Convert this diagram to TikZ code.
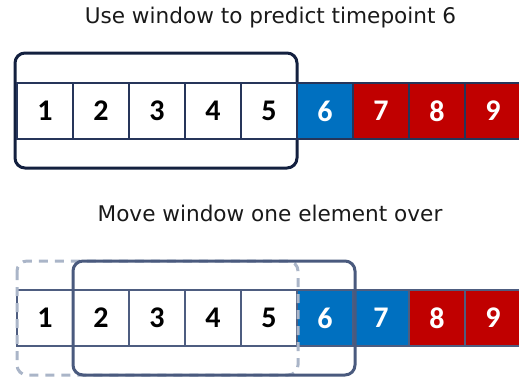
\documentclass[tikz,border=0pt]{standalone}
\usepackage{fontspec}
\setmainfont{DejaVu Sans}
\newfontfamily\numfont{Carlito}
\definecolor{navy}{HTML}{13203F}
\definecolor{navyline}{HTML}{26355A}
\definecolor{slate}{HTML}{4A5A7E}
\definecolor{slateline}{HTML}{4E5D80}
\definecolor{ghost}{HTML}{AAB5C8}
\definecolor{tblue}{HTML}{0070C0}
\definecolor{tred}{HTML}{C00000}
\tikzset{
  cell/.style={draw, line width=2pt, minimum width=56pt, minimum height=56pt,
    inner sep=0pt, outer sep=0pt, font=\numfont\bfseries\fontsize{30}{30}\selectfont},
  past/.style={cell, fill=white, text=black},
  now/.style={cell, fill=tblue, text=white},
  future/.style={cell, fill=tred, text=white},
  title/.style={font=\fontsize{21.6}{24}\selectfont, text=black!90},
  window/.style={line width=3pt, rounded corners=10pt},
}
\begin{document}
\begin{tikzpicture}[x=1pt, y=-1pt]
\useasboundingbox (0,0) rectangle (519,378);

% ---- upper panel: window covering points 1-5 ----
\node[title] (t1) at (270.5,18) {Use window to predict timepoint 6};
\draw[window, draw=navy] (15,53) rectangle (297,168);
\foreach \i/\s in {1/past,2/past,3/past,4/past,5/past,6/now,7/future,8/future,9/future}{
  \node[\s, draw=navyline] (c\i) at ({17+56*(\i-1)+28},111) {\i};
}

% ---- lower panel: window shifted by one element ----
\node[title] (t2) at (270,213) {Move window one element over};
\foreach \i/\s in {1/past,2/past,3/past,4/past,5/past,6/now,7/now,8/future,9/future}{
  \node[\s, draw=slateline] (d\i) at ({17+56*(\i-1)+28},318) {\i};
}
\draw[window, draw=ghost, dash pattern=on 9pt off 7pt] (17,261) rectangle (298,375);
\draw[window, draw=slate] (73,261) rectangle (355,375);
\end{tikzpicture}
\end{document}
